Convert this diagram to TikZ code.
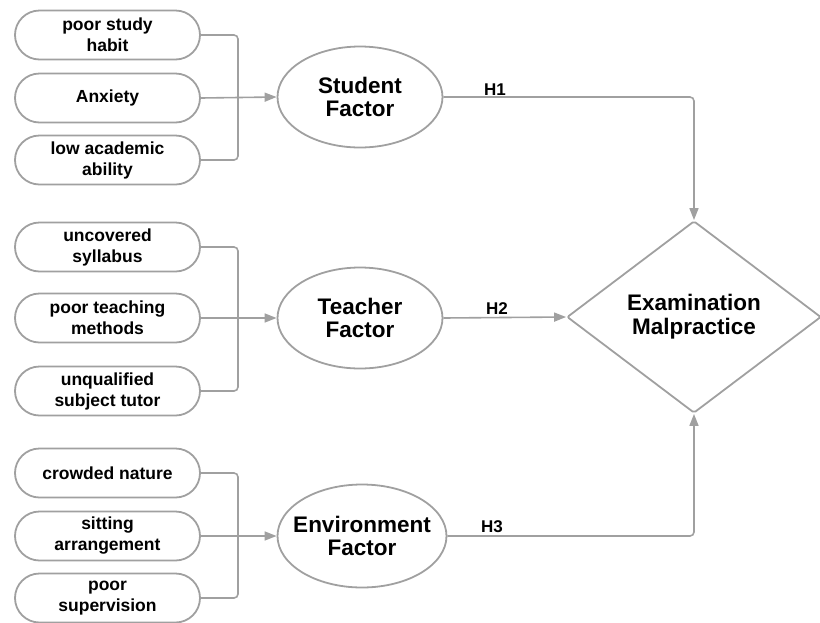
\documentclass[tikz,border=0pt]{standalone}
\usepackage{fontspec}
\setmainfont{Liberation Sans}
\usetikzlibrary{shapes.misc,shapes.geometric,arrows.meta}
\definecolor{ln}{RGB}{160,160,160}
\tikzset{
  pill/.style={rounded rectangle, draw=ln, line width=1.8pt, minimum width=185pt, minimum height=49pt, inner sep=0pt, align=center, font=\bfseries\fontsize{17.5}{21}\selectfont},
  factor/.style={ellipse, draw=ln, line width=1.8pt, minimum width=165pt, minimum height=101pt, inner sep=0pt, align=center, font=\bfseries\fontsize{22.5}{23}\selectfont},
  conn/.style={draw=ln, line width=1.6pt, rounded corners=4pt},
  arr/.style={conn, -{Triangle[length=12pt,width=9pt]}},
  hlab/.style={font=\bfseries\fontsize{17}{18}\selectfont, anchor=south west, inner sep=0pt}
}
\begin{document}
\begin{tikzpicture}[x=1pt,y=-1pt]
\useasboundingbox (0,0) rectangle (820,622);
% left items
\node[pill] (p1) at (107.5,35) {poor study\\habit};
\node[pill] (p2) at (107.5,98) {Anxiety};
\node[pill] (p3) at (107.5,160) {low academic\\ability};
\node[pill] (p4) at (107.5,247) {uncovered\\syllabus};
\node[pill] (p5) at (107.5,318) {poor teaching\\methods};
\node[pill] (p6) at (107.5,391) {unqualified\\subject tutor};
\node[pill] (p7) at (107.5,473) {crowded nature};
\node[pill] (p8) at (107.5,536) {sitting\\arrangement};
\node[pill] (p9) at (107.5,598) {poor\\supervision};
% factors
\node[factor] (sf) at (360,97) {Student\\Factor};
\node[factor] (tf) at (360,318) {Teacher\\Factor};
\node[factor, minimum width=169pt, minimum height=103pt, inner xsep=-17pt] (ef) at (362,536) {Environment\\Factor};
% outcome
\node[diamond, draw=ln, line width=1.8pt, rounded corners=2pt, minimum width=254pt, minimum height=192pt, inner sep=0pt, align=center, font=\bfseries\fontsize{22.5}{24}\selectfont] (em) at (694,317) {Examination\\Malpractice};
% junctions
\coordinate (j1) at (238,97);
\coordinate (j2) at (238,318);
\coordinate (j3) at (238,536);
% group connectors
\draw[conn] (p1.east) -| (j1);
\draw[conn] (p3.east) -| (j1);
\draw[arr] (p2.east) -- (sf.west);
\draw[conn] (p4.east) -| (j2);
\draw[conn] (p6.east) -| (j2);
\draw[arr] (p5.east) -- (tf.west);
\draw[conn] (p7.east) -| (j3);
\draw[conn] (p9.east) -| (j3);
\draw[arr] (p8.east) -- (ef.west);
% hypotheses
\draw[arr] (sf.east) -| (em.north);
\draw[arr] (tf.east) -- (em.west);
\draw[arr] (ef.east) -| (em.south);
\node[hlab] (h1) at (484,96) {H1};
\node[hlab] (h2) at (486,315) {H2};
\node[hlab] (h3) at (481,533) {H3};
\end{tikzpicture}
\end{document}
